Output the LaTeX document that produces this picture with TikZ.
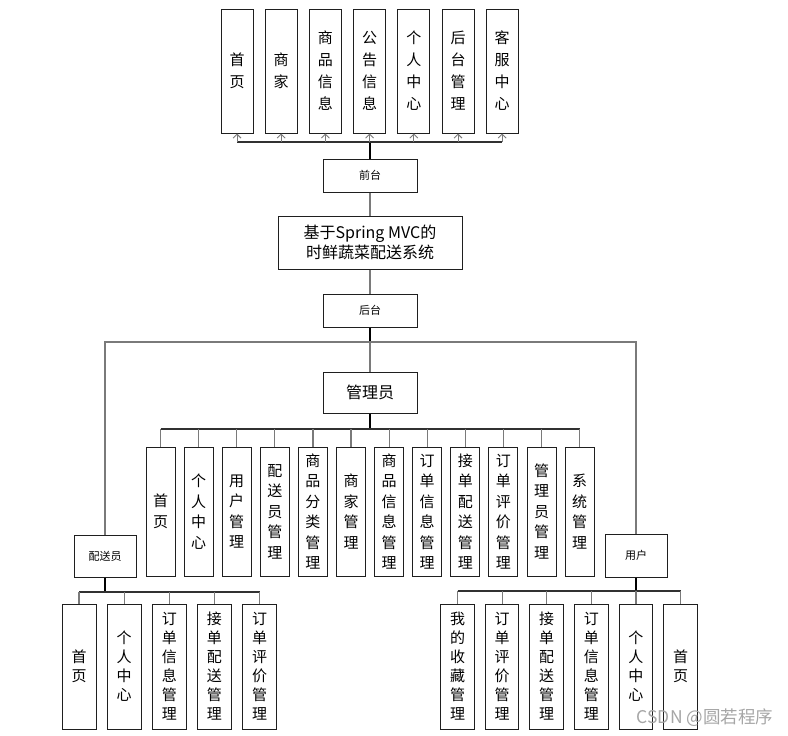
\documentclass[tikz,border=0pt]{standalone}
\usepackage{fontspec}
\setmainfont{Noto Sans CJK SC}
\usetikzlibrary{arrows.meta,positioning}
\definecolor{Edge}{HTML}{1F1F1F}
\definecolor{Wire}{HTML}{7A7A7A}
\definecolor{Mark}{HTML}{A6A6A6}
\tikzset{box/.style={draw=Edge,line width=1pt,fill=white,inner sep=0pt,align=center},small/.style={box,minimum width=94pt,minimum height=33pt,font=\fontsize{11}{13}\selectfont},col/.style={box,font=\fontsize{15}{20.5}\selectfont},link/.style={draw=Wire,line width=1.2pt},trunk/.style={draw=black,line width=2.2pt},bus/.style={draw=Edge!80!Wire,line width=1.3pt},tip/.style={draw=Wire,line width=1pt,-{Straight Barb[length=4pt,width=8pt,line width=0.9pt]}}}
\begin{document}
\begin{tikzpicture}[x=1pt,y=-1pt]
      \useasboundingbox (0,0) rectangle (788,736);
      % middle column
      \node[small](front) at (370,175.5){前台};
      \node[box,minimum width=184pt,minimum height=53pt,font=\fontsize{16}{20}\selectfont](sys) at (370,242.5){基于Spring MVC的\\时鲜蔬菜配送系统};
      \node[small](back) at (370,310.5){后台};
      \node[box,minimum width=94pt,minimum height=41pt,font=\fontsize{16}{20}\selectfont](admin) at (370,392.5){管理员};
      \node[small,minimum width=62pt,minimum height=42pt](rider) at (105,556){配送员};
      \node[small,minimum width=62pt,minimum height=43pt](user) at (636,555.5){用户};
      % front end modules
      \foreach \t [count=\i] in {{首\\页},{商\\家},{商\\品\\信\\息},{公\\告\\信\\息},{个\\人\\中\\心},{后\\台\\管\\理},{客\\服\\中\\心}}
        \node[col,minimum width=32pt,minimum height=124pt,font=\fontsize{15}{22}\selectfont](t\i) at ({237+44.2*(\i-1)},71){\t};
      % admin modules
      \foreach \t [count=\i] in {{首\\页},{个\\人\\中\\心},{用\\户\\管\\理},{配\\送\\员\\管\\理},{商\\品\\分\\类\\管\\理},{商\\家\\管\\理},{商\\品\\信\\息\\管\\理},{订\\单\\信\\息\\管\\理},{接\\单\\配\\送\\管\\理},{订\\单\\评\\价\\管\\理},{管\\理\\员\\管\\理},{系\\统\\管\\理}}
        \node[col,minimum width=29pt,minimum height=129pt](a\i) at ({160.5+38.1*(\i-1)},511.5){\t};
      % rider modules
      \foreach \t [count=\i] in {{首\\页},{个\\人\\中\\心},{订\\单\\信\\息\\管\\理},{接\\单\\配\\送\\管\\理},{订\\单\\评\\价\\管\\理}}
        \node[col,minimum width=34pt,minimum height=125pt,font=\fontsize{15}{19}\selectfont](d\i) at ({79+45.15*(\i-1)},666.5){\t};
      % user modules
      \foreach \t [count=\i] in {{我\\的\\收\\藏\\管\\理},{订\\单\\评\\价\\管\\理},{接\\单\\配\\送\\管\\理},{订\\单\\信\\息\\管\\理},{个\\人\\中\\心},{首\\页}}
        \node[col,minimum width=33.5pt,minimum height=125pt,font=\fontsize{15}{19}\selectfont](u\i) at ({457.5+44.6*(\i-1)},666.5){\t};
      \coordinate(fbus) at (370,142);\coordinate(hub) at (370,342);\coordinate(abus) at (370,429);
      \coordinate(dbus) at (105,592);\coordinate(ubus) at (636,591);
      % connectors
      \draw[trunk](front.north)--(fbus);\draw[bus](t1.south|-fbus)--(t7.south|-fbus);
      \foreach \i in {1,...,7}\draw[tip](t\i.south|-fbus)--(t\i.south);
      \draw[link](front.south)--(sys.north);\draw[link](sys.south)--(back.north);
      \draw[trunk](back.south)--(hub);\draw[link](hub)--(admin.north);
      \draw[link](rider.north)--(rider.north|-hub)--(user.north|-hub)--(user.north);
      \draw[trunk](admin.south)--(abus);\draw[bus](a1.north|-abus)--(a12.north|-abus);
      \foreach \i in {1,...,12}\draw[link](a\i.north|-abus)--(a\i.north);
      \draw[trunk](rider.south)--(dbus);\draw[bus](d1.north|-dbus)--(d5.north|-dbus);
      \foreach \i in {1,...,5}\draw[link](d\i.north|-dbus)--(d\i.north);
      \draw[trunk](user.south)--(ubus);\draw[bus](u1.north|-ubus)--(u6.north|-ubus);
      \foreach \i in {1,...,6}\draw[link](u\i.north|-ubus)--(u\i.north);
      \node[text=Mark,font=\fontsize{17.5}{19}\selectfont](mark) at (705,718){CSDN @圆若程序};
    \end{tikzpicture}
\end{document}
